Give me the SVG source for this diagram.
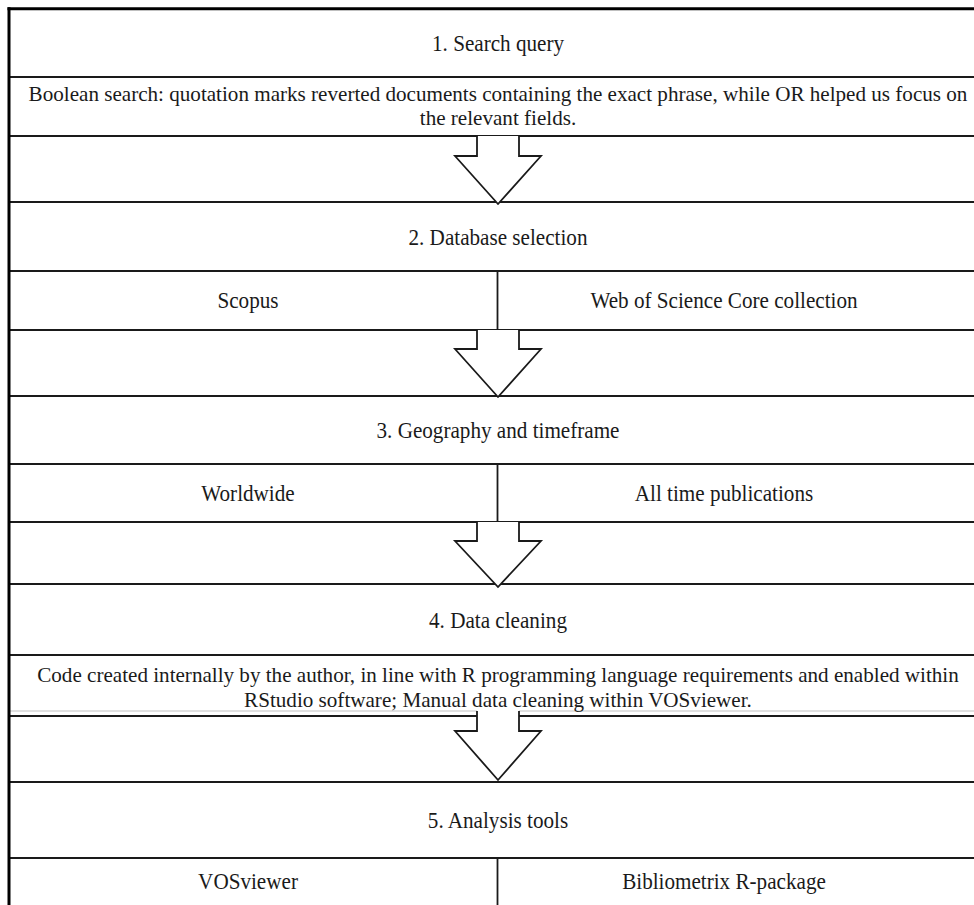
<svg xmlns="http://www.w3.org/2000/svg" width="974" height="905" viewBox="0 0 974 905">
  <style>
    .bg { fill: #ffffff; }
    .rule { stroke: #1a1a1a; stroke-width: 1.8; fill: none; }
    .border { stroke: #000000; stroke-width: 3; fill: none; }
    .faint { stroke: #d6d6d6; stroke-width: 1.5; fill: none; }
    .arrow { stroke: #1a1a1a; stroke-width: 1.8; fill: #ffffff; stroke-linejoin: miter; }
    .t { font-family: "Liberation Serif", "Times New Roman", serif; font-size: 23.5px; fill: #1a1a1a; text-anchor: middle; transform-box: fill-box; transform-origin: center; transform: scaleX(0.9); }
    .t2 { font-family: "Liberation Serif", "Times New Roman", serif; font-size: 22px; fill: #1a1a1a; text-anchor: middle; transform-box: fill-box; transform-origin: center; transform: scaleX(0.96); }
  </style>
  <rect class="bg" x="0" y="0" width="974" height="905"/>

  <g id="frame">
    <line class="rule" x1="9" y1="77" x2="974" y2="77"/>
    <line class="rule" x1="9" y1="136" x2="974" y2="136"/>
    <line class="rule" x1="9" y1="202" x2="974" y2="202"/>
    <line class="rule" x1="9" y1="271" x2="974" y2="271"/>
    <line class="rule" x1="9" y1="330" x2="974" y2="330"/>
    <line class="rule" x1="9" y1="396" x2="974" y2="396"/>
    <line class="rule" x1="9" y1="464" x2="974" y2="464"/>
    <line class="rule" x1="9" y1="522" x2="974" y2="522"/>
    <line class="rule" x1="9" y1="584" x2="974" y2="584"/>
    <line class="rule" x1="9" y1="655" x2="974" y2="655"/>
    <line class="faint" x1="10" y1="711" x2="477" y2="711"/>
    <line class="faint" x1="519" y1="711" x2="974" y2="711"/>
    <line class="rule" x1="9" y1="716" x2="974" y2="716"/>
    <line class="rule" x1="9" y1="782" x2="974" y2="782"/>
    <line class="rule" x1="9" y1="858" x2="974" y2="858"/>
    <line class="rule" x1="497.5" y1="271" x2="497.5" y2="330"/>
    <line class="rule" x1="497.5" y1="464" x2="497.5" y2="522"/>
    <line class="rule" x1="497.5" y1="858" x2="497.5" y2="905"/>
    <line class="border" x1="7.5" y1="8.7" x2="974" y2="8.7"/>
    <line class="border" x1="9" y1="7.2" x2="9" y2="905"/>
  </g>

  <g id="connectors">
    <path class="arrow" d="M477,136 V156 H455 L498,204 L541,156 H519 V136"/>
    <path class="arrow" d="M477,330 V349 H455 L498,397 L541,349 H519 V330"/>
    <path class="arrow" d="M477,522 V541 H455 L498,587 L541,541 H519 V522"/>
    <path class="arrow" d="M477,711 V731 H455 L498,780 L541,731 H519 V711"/>
  </g>

  <g id="step1-search-query">
    <text class="t" x="498" y="51">1. Search query</text>
  </g>
  <g id="step1-detail">
    <text class="t2" x="498" y="101">Boolean search: quotation marks reverted documents containing the exact phrase, while OR helped us focus on</text>
    <text class="t2" x="498" y="125.5">the relevant fields.</text>
  </g>
  <g id="step2-database-selection">
    <text class="t" x="498" y="245">2. Database selection</text>
  </g>
  <g id="step2-scopus">
    <text class="t" x="248" y="308">Scopus</text>
  </g>
  <g id="step2-wos">
    <text class="t" x="724" y="308">Web of Science Core collection</text>
  </g>
  <g id="step3-geography">
    <text class="t" x="498" y="438">3. Geography and timeframe</text>
  </g>
  <g id="step3-worldwide">
    <text class="t" x="248" y="501">Worldwide</text>
  </g>
  <g id="step3-alltime">
    <text class="t" x="724" y="501">All time publications</text>
  </g>
  <g id="step4-data-cleaning">
    <text class="t" x="498" y="628">4. Data cleaning</text>
  </g>
  <g id="step4-detail">
    <text class="t2" x="498" y="682.5">Code created internally by the author, in line with R programming language requirements and enabled within</text>
    <text class="t2" x="498" y="707">RStudio software; Manual data cleaning within VOSviewer.</text>
  </g>
  <g id="step5-analysis-tools">
    <text class="t" x="498" y="828">5. Analysis tools</text>
  </g>
  <g id="step5-vosviewer">
    <text class="t" x="248" y="889">VOSviewer</text>
  </g>
  <g id="step5-bibliometrix">
    <text class="t" x="724" y="889">Bibliometrix R-package</text>
  </g>
</svg>
